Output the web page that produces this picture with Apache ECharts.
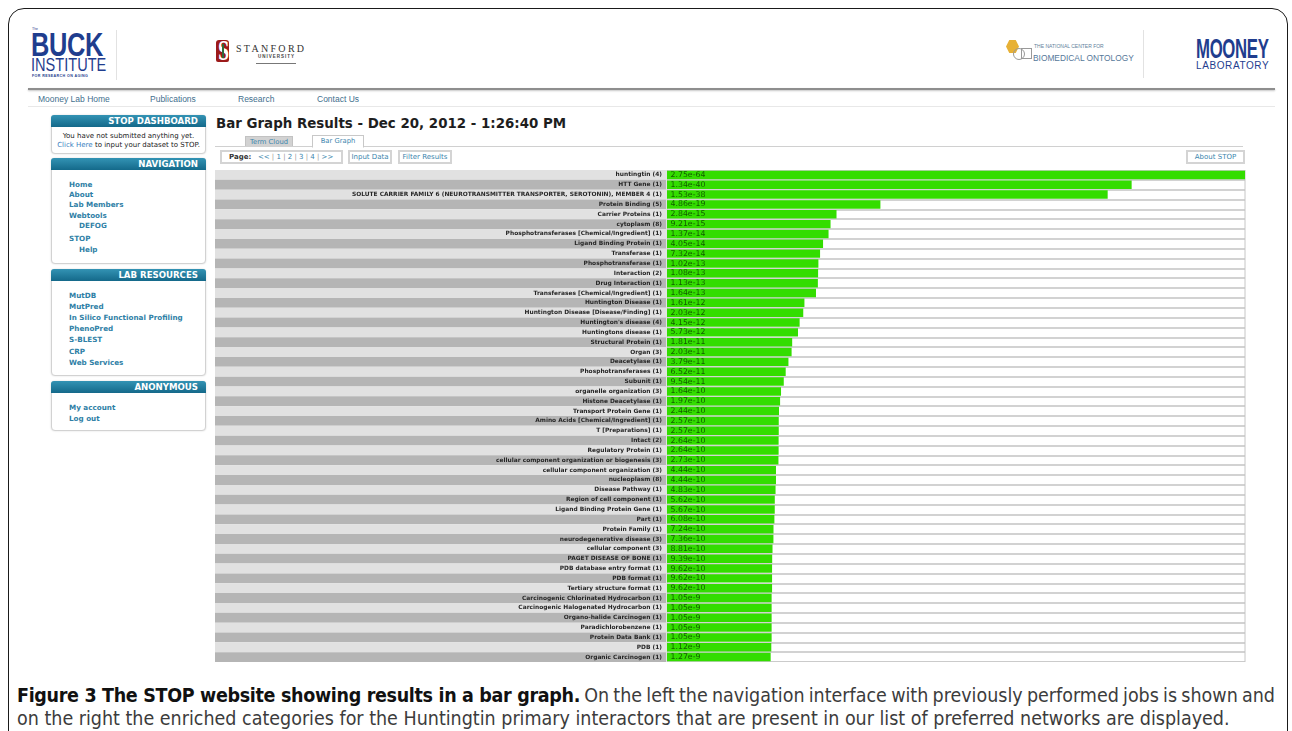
<!DOCTYPE html>
<html><head><meta charset="utf-8">
<script src="https://cdn.jsdelivr.net/npm/echarts@6/dist/echarts.min.js"></script>
<style>
html,body{margin:0;padding:0;width:1292px;height:731px;overflow:hidden;background:#fff;}
.a{position:absolute;white-space:nowrap;line-height:1;}
.sx{transform-origin:0 0;}
#frame{position:absolute;left:8px;top:8px;width:1278px;height:800px;border:1.5px solid #1a1a1a;border-radius:16px;}
.navy{color:#1f3d8e;}
.box{position:absolute;left:51px;width:153px;border:1px solid #d2d2d2;border-radius:4px;box-shadow:0 0 2px #d8d8d8;background:#fff;}
.hd{position:absolute;left:-1px;top:-1px;width:155px;height:12px;background:linear-gradient(#3393b4,#14698a);border-radius:3px 3px 0 0;}
.hd span{position:absolute;right:8px;top:2px;color:#fff;font:bold 8.6px 'DejaVu Sans';line-height:1;}
.lk{position:absolute;white-space:nowrap;line-height:1;font:bold 7.2px 'DejaVu Sans';color:#2f7fa6;}
.nav{position:absolute;top:95px;font:8.5px 'Liberation Sans';color:#3f6f8e;line-height:1;white-space:nowrap;}
.btn{position:absolute;top:150px;height:10px;border:2px solid #d4d4d4;background:#fff;font:7px 'DejaVu Sans';color:#3b85ad;line-height:10px;text-align:center;white-space:nowrap;}
.cap{position:absolute;left:17px;font-family:'DejaVu Sans Condensed','DejaVu Sans',sans-serif;font-stretch:condensed;color:#3c3c3c;line-height:1;white-space:nowrap;}
</style></head><body>
<div id="frame"></div>

<!-- header logos -->
<div class="a navy" style="left:32px;top:27px;font:3.5px 'Liberation Sans';">The</div>
<div class="a navy sx" style="left:31px;top:25.5px;font:bold 33px 'Liberation Sans';transform:scaleX(0.77);letter-spacing:-0.5px;">BUCK</div>
<div class="a navy sx" style="left:31px;top:55px;font:18px 'Liberation Sans';transform:scaleX(0.81);">INSTITUTE</div>
<div class="a navy" style="left:32px;top:74px;font:bold 3.6px 'Liberation Sans';letter-spacing:0.4px;">FOR RESEARCH ON AGING</div>
<div class="a" style="left:116px;top:30px;width:1px;height:50px;background:#e2e2e2;"></div>

<div class="a" style="left:216px;top:40px;width:13px;height:22px;background:#9c1a1a;border-radius:3px 3px 2px 2px;"></div>
<div class="a" style="left:218px;top:36px;font:bold 26px 'DejaVu Serif';color:#fff;transform:scaleX(0.6);transform-origin:0 0;">S</div>
<div class="a" style="left:222px;top:44px;width:2px;height:14px;background:#2e6b3a;"></div>
<div class="a" style="left:236px;top:43px;font:10px 'Liberation Serif';letter-spacing:2.3px;color:#333;">STANFORD</div>
<div class="a" style="left:258px;top:54px;font:bold 4.5px 'Liberation Sans';letter-spacing:1px;color:#444;">UNIVERSITY</div>
<div class="a" style="left:256px;top:63px;width:40px;height:1px;background:#777;"></div>

<div class="a" style="left:1006px;top:40px;width:13px;height:13px;background:#e7b136;clip-path:polygon(25% 0,75% 0,100% 50%,75% 100%,25% 100%,0 50%);"></div>
<div class="a" style="left:1013px;top:48px;width:10px;height:10px;border:1px solid #999;border-radius:50%;"></div>
<div class="a" style="left:1021px;top:48px;width:9px;height:9px;border:1px solid #999;"></div>
<div class="a" style="left:1034px;top:43px;font:5px 'Liberation Sans';color:#5f7f9c;">THE NATIONAL CENTER FOR</div>
<div class="a sx" style="left:1033px;top:51.5px;font:9.5px 'Liberation Sans';color:#56789a;transform:scaleX(0.88);">BIOMEDICAL ONTOLOGY</div>
<div class="a" style="left:1143px;top:30px;width:1px;height:48px;background:#e2e2e2;"></div>

<div class="a navy sx" style="left:1196px;top:34px;font:bold 27px 'Liberation Sans';transform:scaleX(0.62);letter-spacing:-0.5px;">MOONEY</div>
<div class="a navy" style="left:1196px;top:60px;font:10px 'Liberation Sans';letter-spacing:0.6px;">LABORATORY</div>

<!-- nav bar -->
<div class="a" style="left:28px;top:88px;width:1247px;height:2px;background:#8e8e8e;box-shadow:0 1px 2px #c4c4c4;"></div>
<div class="nav" style="left:38px;">Mooney Lab Home</div>
<div class="nav" style="left:150px;">Publications</div>
<div class="nav" style="left:238px;">Research</div>
<div class="nav" style="left:317px;">Contact Us</div>
<div class="a" style="left:28px;top:106px;width:1247px;height:1px;background:#e8e8e8;"></div>

<!-- sidebar -->
<div class="box" style="top:115px;height:37px;"><div class="hd"><span>STOP DASHBOARD</span></div></div>
<div class="a" style="left:51px;width:155px;top:132px;text-align:center;font:7px 'DejaVu Sans';color:#222;">You have not submitted anything yet.</div>
<div class="a" style="left:51px;width:155px;top:141px;text-align:center;font:7px 'DejaVu Sans';color:#222;"><span style="color:#3a7fc0">Click Here</span> to input your dataset to STOP.</div>

<div class="box" style="top:158px;height:104px;"><div class="hd"><span>NAVIGATION</span></div></div>
<div class="lk" style="left:69px;top:179.5px;">Home</div>
<div class="lk" style="left:69px;top:189.5px;">About</div>
<div class="lk" style="left:69px;top:200px;">Lab Members</div>
<div class="lk" style="left:69px;top:210.5px;">Webtools</div>
<div class="lk" style="left:79px;top:221px;">DEFOG</div>
<div class="lk" style="left:69px;top:233.5px;">STOP</div>
<div class="lk" style="left:79px;top:244.5px;">Help</div>

<div class="box" style="top:269px;height:105px;"><div class="hd"><span>LAB RESOURCES</span></div></div>
<div class="lk" style="left:69px;top:290.5px;">MutDB</div>
<div class="lk" style="left:69px;top:301.5px;">MutPred</div>
<div class="lk" style="left:69px;top:312.5px;">In Silico Functional Profiling</div>
<div class="lk" style="left:69px;top:323.5px;">PhenoPred</div>
<div class="lk" style="left:69px;top:335px;">S-BLEST</div>
<div class="lk" style="left:69px;top:346.5px;">CRP</div>
<div class="lk" style="left:69px;top:357.5px;">Web Services</div>

<div class="box" style="top:381px;height:48px;"><div class="hd"><span>ANONYMOUS</span></div></div>
<div class="lk" style="left:69px;top:402.5px;">My account</div>
<div class="lk" style="left:69px;top:413.5px;">Log out</div>

<!-- main -->
<div class="a" style="left:216px;top:115.7px;font:bold 13.4px 'DejaVu Sans';color:#1e1e1e;">Bar Graph Results - Dec 20, 2012 - 1:26:40 PM</div>
<div class="a" style="left:215px;top:146px;width:1028px;height:1px;background:#d0d0d0;"></div>
<div class="a" style="left:245px;top:136px;width:46px;height:9px;background:#d2d2d2;border:1px solid #c2c2c2;border-bottom:none;font:6.8px 'DejaVu Sans';color:#3b85ad;text-align:center;line-height:10px;">Term Cloud</div>
<div class="a" style="left:312px;top:135px;width:50px;height:11px;background:#fff;border:1px solid #c8c8c8;border-bottom:1px solid #fff;font:6.8px 'DejaVu Sans';color:#3b85ad;text-align:center;line-height:11px;">Bar Graph</div>

<div class="btn" style="left:220px;width:119px;text-align:left;"><span style="margin-left:7px;color:#333;font-weight:bold;">Page:</span>&nbsp;&nbsp; &lt;&lt;<span style="color:#999"> | </span>1<span style="color:#999"> | </span>2<span style="color:#999"> | </span>3<span style="color:#999"> | </span>4<span style="color:#999"> | </span>&gt;&gt;</div>
<div class="btn" style="left:348px;width:40px;">Input Data</div>
<div class="btn" style="left:398px;width:50px;">Filter Results</div>
<div class="btn" style="left:1186px;width:55px;">About STOP</div>

<div id="chart" style="position:absolute;left:215px;top:170px;width:1031px;height:492px;"></div>

<!-- caption -->
<div id="cap1" class="cap" style="top:686px;"><b id="capb" style="color:#111">Figure 3 The STOP website showing results in a bar graph.</b><span id="capr"> On the left the navigation interface with previously performed jobs is shown and</span></div>
<div id="cap2" class="cap" style="top:709px;">on the right the enriched categories for the Huntingtin primary interactors that are present in our list of preferred networks are displayed.</div>

<script>
const categories = [
  'huntingtin (4)',
  'HTT Gene (1)',
  'SOLUTE CARRIER FAMILY 6 (NEUROTRANSMITTER TRANSPORTER, SEROTONIN), MEMBER 4 (1)',
  'Protein Binding (5)',
  'Carrier Proteins (1)',
  'cytoplasm (8)',
  'Phosphotransferases [Chemical/Ingredient] (1)',
  'Ligand Binding Protein (1)',
  'Transferase (1)',
  'Phosphotransferase (1)',
  'Interaction (2)',
  'Drug Interaction (1)',
  'Transferases [Chemical/Ingredient] (1)',
  'Huntington Disease (1)',
  'Huntington Disease [Disease/Finding] (1)',
  "Huntington's disease (4)",
  'Huntingtons disease (1)',
  'Structural Protein (1)',
  'Organ (3)',
  'Deacetylase (1)',
  'Phosphotransferases (1)',
  'Subunit (1)',
  'organelle organization (3)',
  'Histone Deacetylase (1)',
  'Transport Protein Gene (1)',
  'Amino Acids [Chemical/Ingredient] (1)',
  'T [Preparations] (1)',
  'Intact (2)',
  'Regulatory Protein (1)',
  'cellular component organization or biogenesis (3)',
  'cellular component organization (3)',
  'nucleoplasm (8)',
  'Disease Pathway (1)',
  'Region of cell component (1)',
  'Ligand Binding Protein Gene (1)',
  'Part (1)',
  'Protein Family (1)',
  'neurodegenerative disease (3)',
  'cellular component (3)',
  'PAGET DISEASE OF BONE (1)',
  'PDB database entry format (1)',
  'PDB format (1)',
  'Tertiary structure format (1)',
  'Carcinogenic Chlorinated Hydrocarbon (1)',
  'Carcinogenic Halogenated Hydrocarbon (1)',
  'Organo-halide Carcinogen (1)',
  'Paradichlorobenzene (1)',
  'Protein Data Bank (1)',
  'PDB (1)',
  'Organic Carcinogen (1)'
];
const pValues = [
  '2.75e-64','1.34e-40','1.53e-38','4.86e-19','2.84e-15','9.21e-15','1.37e-14','4.05e-14','7.32e-14','1.02e-13',
  '1.08e-13','1.13e-13','1.64e-13','1.61e-12','2.03e-12','4.15e-12','5.73e-12','1.81e-11','2.03e-11','3.79e-11',
  '6.52e-11','9.54e-11','1.64e-10','1.97e-10','2.44e-10','2.57e-10','2.57e-10','2.64e-10','2.64e-10','2.73e-10',
  '4.44e-10','4.44e-10','4.83e-10','5.62e-10','5.67e-10','6.08e-10','7.24e-10','7.36e-10','8.81e-10','9.39e-10',
  '9.62e-10','9.62e-10','9.62e-10','1.05e-9','1.05e-9','1.05e-9','1.05e-9','1.05e-9','1.12e-9','1.27e-9'
];
// bar length = -log10(p)
const scores = pValues.map(p => -Math.log10(Number(p)));

const chart = echarts.init(document.getElementById('chart'), null, {renderer: 'canvas'});
chart.setOption({
  animation: false,
  grid: [
    {left: 0, top: 0, width: 451, height: 492},
    {left: 452, top: 0, width: 578, height: 492, show: true, backgroundColor: '#fff', borderColor: '#c6c6c6', borderWidth: 1}
  ],
  xAxis: [
    {gridIndex: 0, type: 'value', show: false, min: 0, max: 1},
    {gridIndex: 1, type: 'value', min: 0, max: 49.6, show: false}
  ],
  yAxis: [
    {gridIndex: 0, type: 'category', data: categories, inverse: true, position: 'right',
     axisLine: {show: false}, axisTick: {show: false},
     axisLabel: {inside: true, interval: 0, margin: 4, fontFamily: 'DejaVu Sans', fontWeight: 'bold', fontSize: 5.9, color: '#262626'},
     splitLine: {show: false},
     splitArea: {show: true, interval: 0, areaStyle: {color: ['#e1e1e1', '#b5b5b5']}}},
    {gridIndex: 1, type: 'category', data: categories, inverse: true,
     axisLine: {show: false}, axisTick: {show: false}, axisLabel: {show: false},
     splitLine: {show: true, interval: 0, lineStyle: {color: '#c3c3c3', width: 1.5}}}
  ],
  series: [{
    type: 'bar', xAxisIndex: 1, yAxisIndex: 1, data: scores,
    barCategoryGap: '14%', clip: true,
    itemStyle: {color: '#33dd00'},
    label: {show: true, position: 'insideLeft', distance: 3.5,
            formatter: p => pValues[p.dataIndex],
            fontFamily: 'DejaVu Sans', fontSize: 7.8, color: '#135c00'}
  }]
});

// fit caption lines to the widths they have in the reference
(function(){
  const c1 = document.getElementById('cap1'), c2 = document.getElementById('cap2');
  const cb = document.getElementById('capb'), cr = document.getElementById('capr');
  c2.style.fontSize = '17px';
  const fs = 17 * 1213 / c2.getBoundingClientRect().width;
  c2.style.fontSize = fs + 'px';
  c1.style.fontSize = fs + 'px';
  const wb = cb.getBoundingClientRect().width;
  cb.style.letterSpacing = ((563 - wb) / cb.textContent.length) + 'px';
  const wr = cr.getBoundingClientRect().width;
  const nSp = (cr.textContent.match(/ /g) || []).length;
  cr.style.wordSpacing = ((1258 - 563 - wr) / nSp) + 'px';
})();
</script>
</body></html>
